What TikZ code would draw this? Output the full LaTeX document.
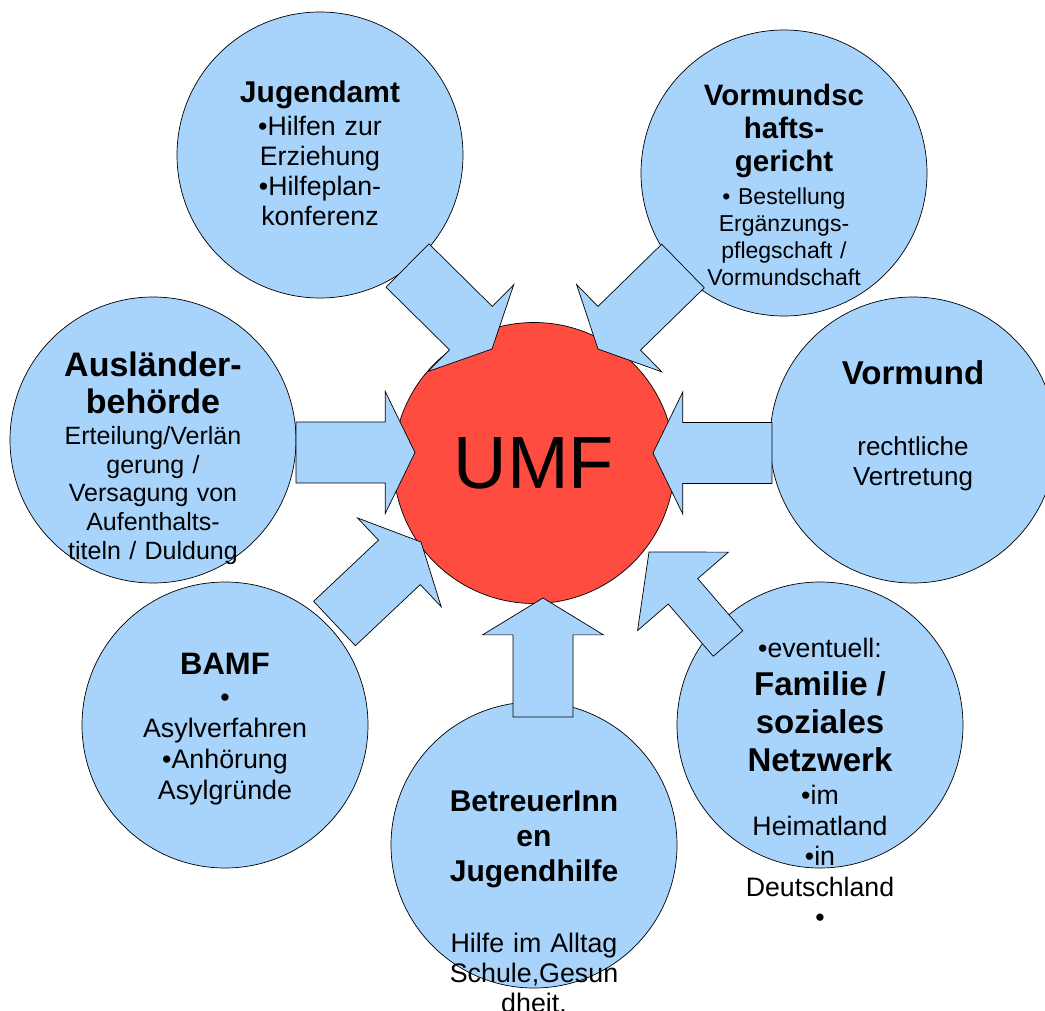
\documentclass[tikz,border=0pt]{standalone}
\usepackage{fontspec}
\setmainfont{Liberation Sans}
\usepackage{tikz}
\usetikzlibrary{calc}
\definecolor{bubbleblue}{RGB}{168,212,252}
\definecolor{umfred}{RGB}{255,76,64}
\setlength{\lineskiplimit}{-100pt}

\tikzset{
  bubble/.style={circle, draw=black, line width=0.7pt, fill=bubbleblue, minimum size=286pt, inner sep=0pt},
  umfcore/.style={circle, draw=black, line width=0.7pt, fill=umfred, minimum size=281pt, inner sep=0pt, font=\fontsize{74}{80}\selectfont},
  bubbletext/.style={text width=300pt, align=center, inner sep=0pt, anchor=base},
  blockarrowstyle/.style={draw=black, line width=0.7pt, fill=bubbleblue, line join=miter}
}
% #1 tail, #2 tip, #3 start of head, #4 half shaft, #5 half head
\newcommand{\blockarrow}[5]{%
  \draw[blockarrowstyle] ($(#1)!#4!90:(#2)$) -- ($(#1)!#3!(#2)!#4!90:(#2)$) -- ($(#1)!#3!(#2)!#5!90:(#2)$) -- (#2)
    -- ($(#1)!#3!(#2)!#5!-90:(#2)$) -- ($(#1)!#3!(#2)!#4!-90:(#2)$) -- ($(#1)!#4!-90:(#2)$) -- cycle;}

\begin{document}
\begin{tikzpicture}[x=1pt, y=-1pt]
\useasboundingbox (0,0) rectangle (1045,1011);
% circles
\node[bubble] (jug) at (320,155) {};
\node[bubble] (vgericht) at (784,173) {};
\node[bubble] (vormund) at (913,440) {};
\node[bubble] (familie) at (820,725) {};
\node[bubble] (betreuer) at (534,845) {};
\node[bubble] (bamf) at (225,725) {};
\node[bubble] (ausl) at (153,440) {};
\node[umfcore] (umf) at (534,463) {UMF};

% arrow ends
\coordinate (jugtail) at ($(jug)+(87.5,110.5)$);
\coordinate (jugtip) at ($(umf)+(-42,-114)$);
\coordinate (vgtail) at ($(vgericht)+(-101,93)$);
\coordinate (vgtip) at ($(umf)+(64,-114)$);
\coordinate (ausltail) at ($(ausl)+(143,12.5)$);
\coordinate (ausltip) at ($(umf)+(-119,-10.5)$);
\coordinate (vmtail) at ($(vormund)+(-141,13)$);
\coordinate (vmtip) at ($(umf)+(119,-10)$);
\coordinate (bamftail) at ($(bamf)+(109.5,-101.5)$);
\coordinate (bamftip) at ($(umf)+(-113,79)$);
\coordinate (betrtail) at ($(betreuer)+(9,-128)$);
\coordinate (betrtip) at ($(umf)+(9,135)$);
\coordinate (famtail) at ($(familie)+(-92,-81.5)$);
\coordinate (famtip) at ($(umf)+(115,89)$);

\blockarrow{jugtail}{jugtip}{0.75}{30.5pt}{61pt}
\blockarrow{vgtail}{vgtip}{0.75}{30.5pt}{61pt}
\blockarrow{ausltail}{ausltip}{0.75}{30.5pt}{61pt}
\blockarrow{vmtail}{vmtip}{0.75}{30.5pt}{61pt}
\blockarrow{bamftail}{bamftip}{0.75}{30.5pt}{61pt}
\blockarrow{betrtail}{betrtip}{0.69}{30pt}{60.5pt}
\blockarrow{famtail}{famtip}{0.57}{19.5pt}{60pt}

% texts
\node[bubbletext, font=\fontsize{26.7}{30}\selectfont] (jugtext) at (320,103)
  {{\bfseries\fontsize{30}{30}\selectfont Jugendamt}\\[3pt]•Hilfen zur\\Erziehung\\•Hilfeplan-\\konferenz};
\node[bubbletext, font=\fontsize{23}{27}\selectfont] (vgtext) at (784,106)
  {{\bfseries\fontsize{29.5}{27}\selectfont Vormundsc\\[6pt]hafts-\\[6pt]gericht}\\[6pt]• Bestellung\\Ergänzungs-\\pflegschaft /\\Vormundschaft};
\node[bubbletext, font=\fontsize{25}{29}\selectfont] (ausltext) at (153,376)
  {{\bfseries\fontsize{34}{29}\selectfont Ausländer-\\[8pt]behörde}\\[2pt]Erteilung/Verlän\\gerung /\\Versagung von\\Aufenthalts-\\titeln / Duldung};
\node[bubbletext, font=\fontsize{26}{30}\selectfont] (vmtext) at (913,384)
  {{\bfseries\fontsize{33}{30}\selectfont Vormund}\\[42pt]rechtliche\\Vertretung};
\node[bubbletext, font=\fontsize{26.7}{30.5}\selectfont] (famtext) at (820,657)
  {•eventuell:\\[7.5pt]{\bfseries\fontsize{33}{30.5}\selectfont Familie /\\[7.5pt]soziales\\[8pt]Netzwerk}\\[2.5pt]•im\\Heimatland\\•in\\Deutschland\\•};
\node[bubbletext, font=\fontsize{26.8}{31}\selectfont] (bamftext) at (225,674)
  {{\bfseries\fontsize{31}{31}\selectfont BAMF}\\[1pt]•\\Asylverfahren\\•Anhörung\\Asylgründe};
\node[bubbletext, font=\fontsize{26.8}{30}\selectfont] (betrtext) at (534,811)
  {{\bfseries\fontsize{30}{30}\selectfont BetreuerInn\\[5pt]en\\[5pt]Jugendhilfe}\\[41pt]Hilfe im Alltag\\Schule,Gesun\\dheit.};
\end{tikzpicture}
\end{document}
